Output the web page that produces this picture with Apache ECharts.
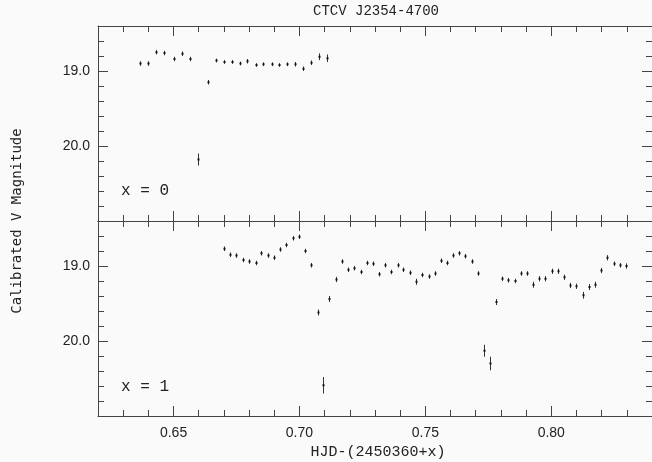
<!DOCTYPE html>
<html><head><meta charset="utf-8">
<script src="https://cdn.jsdelivr.net/npm/echarts@6/dist/echarts.min.js"></script>
<style>html,body{margin:0;padding:0;background:#fafafa;}#c{width:652px;height:462px;}</style>
</head><body><div id="c"></div>
<script>
// ---- data ----
const titleText = "CTCV J2354-4700";
const xTitle = "HJD-(2450360+x)";
const yTitle = "Calibrated V Magnitude";
const panelLabels = ["x = 0", "x = 1"];
const xMajorTicks = [0.65, 0.70, 0.75, 0.80];
const yMajorTicks = [19.0, 20.0];

const topX = [0.6365,0.6398,0.6431,0.6461,0.6503,0.6533,0.6566,0.6596,0.6636,0.6669,0.6699,0.6732,0.6762,0.6793,0.6826,0.6856,0.6889,0.6919,0.6950,0.6983,0.7013,0.7046,0.7078,0.7108];
const topMag = [18.90,18.90,18.75,18.76,18.84,18.77,18.84,20.18,19.15,18.86,18.88,18.88,18.90,18.87,18.92,18.91,18.91,18.92,18.91,18.91,18.97,18.89,18.81,18.83];
const topErr = [0.03,0.03,0.03,0.03,0.03,0.03,0.03,0.08,0.03,0.025,0.025,0.025,0.025,0.03,0.025,0.025,0.025,0.025,0.025,0.03,0.03,0.03,0.045,0.05];

const botX = [0.6702,0.6725,0.6749,0.6775,0.6800,0.6826,0.6849,0.6874,0.6898,0.6923,0.6947,0.6974,0.6997,0.7021,0.7047,0.7072,0.7094,0.7119,0.7144,0.7170,0.7193,0.7218,0.7243,0.7268,0.7292,0.7316,0.7340,0.7365,0.7390,0.7413,0.7438,0.7463,0.7488,0.7513,0.7537,0.7561,0.7586,0.7609,0.7634,0.7659,0.7684,0.7709,0.7733,0.7758,0.7781,0.7806,0.7830,0.7854,0.7879,0.7904,0.7929,0.7952,0.7977,0.8002,0.8027,0.8050,0.8075,0.8100,0.8125,0.8148,0.8173,0.8198,0.8223,0.8248,0.8273,0.8296];
const botMag = [18.77,18.85,18.86,18.92,18.94,18.96,18.83,18.86,18.89,18.78,18.72,18.63,18.61,18.80,18.99,19.62,20.59,19.44,19.18,18.94,19.05,19.03,19.08,18.96,18.97,19.11,18.99,19.08,18.99,19.05,19.09,19.21,19.12,19.14,19.10,18.93,18.96,18.86,18.83,18.87,18.94,19.10,20.13,20.30,19.48,19.17,19.19,19.20,19.10,19.10,19.25,19.17,19.17,19.07,19.07,19.15,19.26,19.27,19.39,19.28,19.25,19.06,18.89,18.97,18.99,19.00];
const botErr = [0.03,0.03,0.03,0.03,0.03,0.03,0.03,0.03,0.03,0.03,0.03,0.03,0.03,0.03,0.03,0.04,0.11,0.04,0.035,0.03,0.03,0.03,0.03,0.03,0.03,0.03,0.03,0.03,0.03,0.03,0.03,0.04,0.03,0.03,0.03,0.03,0.03,0.03,0.03,0.03,0.03,0.03,0.08,0.09,0.04,0.03,0.03,0.03,0.03,0.03,0.04,0.035,0.035,0.035,0.035,0.035,0.035,0.035,0.045,0.04,0.04,0.035,0.035,0.03,0.03,0.035];

// ---- layout ----
const X_MIN = 0.62, X_MAX = 0.84, Y_MIN = 18.4, Y_MAX = 21.0;
const LINE = '#444';
const grids = [
  {left: 98, right: -7, top: 26, height: 195},
  {left: 98, right: -7, top: 221, height: 195}
];

const xAxes = [], yAxes = [];
grids.forEach((g, gi) => {
  ['bottom', 'top'].forEach(pos => {
    xAxes.push({gridIndex: gi, type: 'value', position: pos, min: X_MIN, max: X_MAX, interval: 0.01,
      axisLine: {show: true, onZero: false, lineStyle: {color: LINE, width: 1}},
      axisTick: {show: true, inside: true, length: 6, lineStyle: {color: LINE}},
      axisLabel: {show: false}, splitLine: {show: false}});
    const showLab = (gi === 1 && pos === 'bottom');
    xAxes.push({gridIndex: gi, type: 'value', position: pos, min: X_MIN, max: X_MAX, interval: 0.01,
      axisLine: {show: false},
      axisTick: {show: true, inside: true, length: 10, customValues: xMajorTicks, lineStyle: {color: LINE}},
      axisLabel: {show: showLab, customValues: xMajorTicks, formatter: v => v.toFixed(2),
        fontFamily: 'Liberation Sans', fontSize: 14, color: '#222', margin: 10},
      splitLine: {show: false}});
  });
  ['left', 'right'].forEach(pos => {
    yAxes.push({gridIndex: gi, type: 'value', position: pos, inverse: true, min: Y_MIN, max: Y_MAX, interval: 0.2,
      axisLine: {show: true, onZero: false, lineStyle: {color: LINE, width: 1}},
      axisTick: {show: true, inside: true, length: 6, lineStyle: {color: LINE}},
      axisLabel: {show: false}, splitLine: {show: false}});
    yAxes.push({gridIndex: gi, type: 'value', position: pos, inverse: true, min: Y_MIN, max: Y_MAX, interval: 0.2,
      axisLine: {show: false},
      axisTick: {show: true, inside: true, length: 10, customValues: yMajorTicks, lineStyle: {color: LINE}},
      axisLabel: {show: pos === 'left', customValues: yMajorTicks, formatter: v => v.toFixed(1),
        fontFamily: 'Liberation Sans', fontSize: 14, color: '#222', margin: 8},
      splitLine: {show: false}});
  });
});

function errSeries(xs, ys, es, gi) {
  return {
    type: 'custom', xAxisIndex: gi * 4, yAxisIndex: gi * 4, clip: false,
    data: xs.map((x, i) => [x, ys[i], es[i]]),
    renderItem: (params, api) => {
      const x = api.value(0), y = api.value(1), e = api.value(2);
      const p0 = api.coord([x, y - e]), p1 = api.coord([x, y + e]), c = api.coord([x, y]);
      return {type: 'group', children: [
        {type: 'line', shape: {x1: Math.round(p0[0]) + 0.5, y1: p0[1], x2: Math.round(p1[0]) + 0.5, y2: p1[1]},
          style: {stroke: '#333', lineWidth: 1}},
        {type: 'rect', shape: {x: Math.round(c[0]) - 0.5, y: c[1] - 1, width: 2, height: 2},
          style: {fill: '#111'}}
      ]};
    }
  };
}

const chart = echarts.init(document.getElementById('c'), null, {renderer: 'canvas'});
chart.setOption({
  backgroundColor: '#fafafa',
  animation: false,
  grid: grids,
  xAxis: xAxes,
  yAxis: yAxes,
  series: [errSeries(topX, topMag, topErr, 0), errSeries(botX, botMag, botErr, 1)],
  graphic: [
    {type: 'text', x: 376, y: 4, style: {text: titleText, font: '14px "Liberation Mono"', fill: '#222', align: 'center'}},
    {type: 'text', x: 121, y: 183, style: {text: panelLabels[0], font: '16px "Liberation Mono"', fill: '#222'}},
    {type: 'text', x: 121, y: 379, style: {text: panelLabels[1], font: '16px "Liberation Mono"', fill: '#222'}},
    {type: 'text', x: 378, y: 445, style: {text: xTitle, font: '15px "Liberation Mono"', fill: '#222', align: 'center'}},
    {type: 'text', x: 10, y: 221, rotation: Math.PI / 2, style: {text: yTitle, font: '14px "DejaVu Sans Mono"', fill: '#222', align: 'center', verticalAlign: 'top'}}
  ]
});
</script></body></html>
